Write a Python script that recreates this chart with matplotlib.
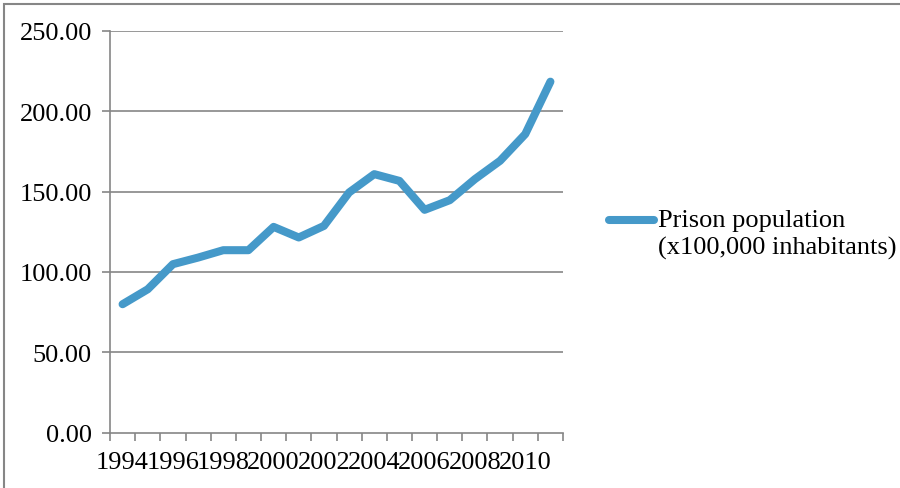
import matplotlib.pyplot as plt
from matplotlib.lines import Line2D
from matplotlib.patches import Rectangle

# Prison population per 100,000 inhabitants, 1994-2011
years = list(range(1994, 2012))
prison_rate = [79.9, 89.2, 104.8, 108.9, 113.5, 113.5, 128.0, 121.4, 128.6,
               149.4, 160.8, 156.6, 138.6, 144.6, 157.7, 169.1, 185.7, 218.3]
year_labels = [str(y) for y in years[::2]]
y_ticks = [0, 50, 100, 150, 200, 250]
series_name = 'Prison population\n(x100,000 inhabitants)'

plt.rcParams['font.family'] = ['Liberation Serif', 'DejaVu Serif']
FS = 19

fig = plt.figure(figsize=(9, 4.89), dpi=100)
W, H = 900, 489
ax = fig.add_axes([110 / W, 1 - 433.7 / H, (563 - 110) / W, (433.7 - 31.7) / H])

grid_col = '#868686'
line_col = '#4599c9'
lw = 5.8

x = list(range(len(years)))
ax.plot(x, prison_rate, color=line_col, linewidth=lw, solid_capstyle='round',
        solid_joinstyle='round')

ax.set_xlim(-0.5, len(years) - 0.5)
ax.set_ylim(0, 250)
ax.set_yticks(y_ticks)
ax.set_yticklabels([f'{v:.2f}' for v in y_ticks])
for v in y_ticks[1:]:
    ax.axhline(v, color=grid_col, linewidth=1.2, zorder=0)

# category tick marks sit between the years, labels on every other year
ax.set_xticks([i - 0.5 for i in range(len(years) + 1)])
ax.set_xticklabels([])
ax.set_xticks(x[::2], minor=True)
ax.set_xticklabels(year_labels, minor=True)
ax.tick_params(axis='x', which='major', length=6, width=1.2, color=grid_col, direction='out')
ax.tick_params(axis='x', which='minor', length=0, labelsize=FS, pad=13)
ax.tick_params(axis='y', length=6, width=1.2, color=grid_col, labelsize=FS, pad=7)

for side in ['top', 'right']:
    ax.spines[side].set_visible(False)
for side in ['left', 'bottom']:
    ax.spines[side].set_color(grid_col)
    ax.spines[side].set_linewidth(1.2)

# legend: swatch lines up with the first line of the label
fig.add_artist(Line2D([609 / W, 654 / W], [1 - 221 / H] * 2, transform=fig.transFigure,
                      color=line_col, linewidth=lw, solid_capstyle='round'))
fig.text(658 / W, 1 - 210 / H, series_name, fontsize=FS, va='top', ha='left',
         linespacing=1.3)

# chart-area border
fig.patches.append(Rectangle((4 / W, -0.1), 1.1, 1 - 5 / H + 0.1, transform=fig.transFigure,
                             fill=False, edgecolor=grid_col, linewidth=1.5))

fig.savefig('out.png', dpi=100)
